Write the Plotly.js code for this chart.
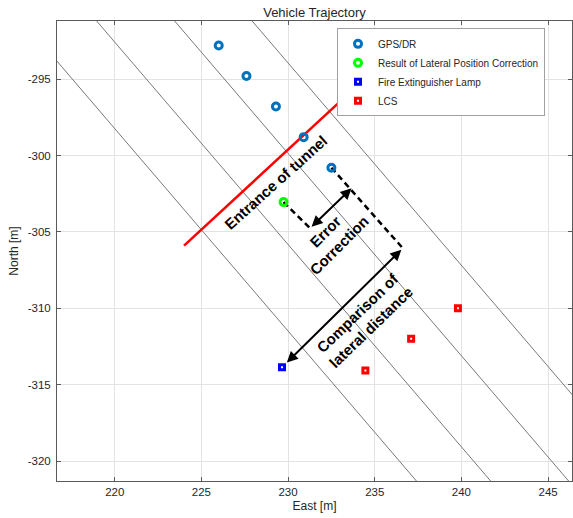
<!DOCTYPE html>
<html>
<head>
<meta charset="utf-8">
<script src="https://cdn.plot.ly/plotly-3.0.1.min.js"></script>
<style>html,body{margin:0;padding:0;background:#fff;}#chart{width:573px;height:518px;}</style>
</head>
<body>
<div id="chart"></div>
<script>
// ---- data ----
const gpsEast = [226.0, 227.6, 229.3, 230.9, 232.5];
const gpsNorth = [-292.8, -294.8, -296.8, -298.8, -300.8];
const corrEast = [229.74];
const corrNorth = [-303.05];
const lampEast = [229.65];
const lampNorth = [-313.85];
const lcsEast = [234.46, 237.1, 239.8];
const lcsNorth = [-314.07, -312.0, -310.0];
const entranceEast = [224.0, 233.4];
const entranceNorth = [-305.9, -296.05];
// lane boundary lines: east at north=-290 and at north=-323
const laneNorthEnds = [-290, -323];
const laneEastTop = [213.78, 218.05, 222.55, 227.02];
const laneEastBottom = [238.69, 242.97, 247.47, 251.94];
// dashed guides
const dashGpsEast = [232.5, 236.62];
const dashGpsNorth = [-300.8, -306.07];
const dashCorrEast = [229.74, 231.27];
const dashCorrNorth = [-303.05, -304.76];
// double arrows [east0, north0, east1, north1]
const errorArrow = [231.27, -304.76, 233.66, -302.15];
const compareArrow = [236.62, -306.07, 229.93, -313.55];
// labels
const labelTexts = ['Entrance of tunnel', 'Error<br>Correction', 'Comparison of<br>lateral distance'];
const labelEast = [229.28, 232.55, 234.39];
const labelNorth = [-301.77, -305.4, -310.82];
const labelAngle = [-42, -45, -44];
const xTicks = [220, 225, 230, 235, 240, 245];
const yTicks = [-320, -315, -310, -305, -300, -295];
const xTickText = ['220', '225', '230', '235', '240', '245'];
const yTickText = ['-320', '-315', '-310', '-305', '-300', '-295'];

const laneX = [], laneY = [];
for (let i = 0; i < laneEastTop.length; i++) {
  laneX.push(laneEastTop[i], laneEastBottom[i], null);
  laneY.push(laneNorthEnds[0], laneNorthEnds[1], null);
}

const FONT = 'Liberation Sans, Arial, Helvetica, sans-serif';

const traces = [
  {x: laneX, y: laneY, mode: 'lines', line: {color: '#787878', width: 1}, showlegend: false, hoverinfo: 'skip', connectgaps: false},
  {x: entranceEast, y: entranceNorth, mode: 'lines', line: {color: '#ff0000', width: 2.5}, showlegend: false},
  {x: dashGpsEast, y: dashGpsNorth, mode: 'lines', line: {color: '#000', width: 2.5, dash: '6px,4px'}, showlegend: false},
  {x: dashCorrEast, y: dashCorrNorth, mode: 'lines', line: {color: '#000', width: 2.5, dash: '6px,4px'}, showlegend: false},
  {x: gpsEast, y: gpsNorth, mode: 'markers', name: 'GPS/DR',
   marker: {symbol: 'circle-open', size: 7, color: '#0072BD', line: {width: 3, color: '#0072BD'}}},
  {x: corrEast, y: corrNorth, mode: 'markers', name: 'Result of Lateral Position Correction',
   marker: {symbol: 'circle-open', size: 7, color: '#00ff00', line: {width: 3, color: '#00ff00'}}},
  {x: lampEast, y: lampNorth, mode: 'markers', name: 'Fire Extinguisher Lamp',
   marker: {symbol: 'square-open', size: 5, color: '#0000ff', line: {width: 3, color: '#0000ff'}}},
  {x: lcsEast, y: lcsNorth, mode: 'markers', name: 'LCS',
   marker: {symbol: 'square-open', size: 5, color: '#ff0000', line: {width: 3, color: '#ff0000'}}}
];

function dblArrow(a) {
  return {x: a[2], y: a[3], ax: a[0], ay: a[1], xref: 'x', yref: 'y', axref: 'x', ayref: 'y',
    text: '', showarrow: true, arrowside: 'end+start', arrowhead: 2, startarrowhead: 2,
    arrowsize: 1.1, startarrowsize: 1.1, arrowwidth: 2, arrowcolor: '#000'};
}
const annotations = [dblArrow(errorArrow), dblArrow(compareArrow)];
for (let i = 0; i < labelTexts.length; i++) {
  annotations.push({x: labelEast[i], y: labelNorth[i], xref: 'x', yref: 'y', text: '<b>' + labelTexts[i] + '</b>',
    showarrow: false, textangle: labelAngle[i], align: 'center',
    font: {family: FONT, size: 15, color: '#000'}});
}

const axisCommon = {
  showline: true, mirror: 'ticks', linecolor: '#5a5a5a', linewidth: 1,
  ticks: 'inside', ticklen: 4, tickcolor: '#5a5a5a',
  showgrid: true, gridcolor: '#e3e3e3', gridwidth: 1, zeroline: false,
  tickfont: {family: FONT, size: 11.5, color: '#262626'}
};

const layout = {
  width: 573, height: 518,
  margin: {l: 57, r: 1, t: 21, b: 37},
  paper_bgcolor: '#fff', plot_bgcolor: '#fff',
  font: {family: FONT, color: '#262626'},
  title: {text: 'Vehicle Trajectory', x: 0.5, xref: 'paper', y: 1 - 12.8 / 518, yanchor: 'middle',
    font: {family: FONT, size: 13, color: '#262626'}},
  xaxis: Object.assign({}, axisCommon, {range: [216.67, 246.38], tickmode: 'array', tickvals: xTicks, ticktext: xTickText,
    title: {text: 'East [m]', font: {family: FONT, size: 12, color: '#262626'}, standoff: 4}}),
  yaxis: Object.assign({}, axisCommon, {range: [-321.3, -291.2], tickmode: 'array', tickvals: yTicks, ticktext: yTickText, ticklabelstandoff: 3,
    title: {text: 'North [m]', font: {family: FONT, size: 12, color: '#262626'}, standoff: 6}}),
  legend: {x: 0.5437, y: 0.984, xanchor: 'left', yanchor: 'top', bgcolor: '#fff',
    bordercolor: '#a0a0a0', borderwidth: 1, font: {family: FONT, size: 10, color: '#262626'}},
  annotations: annotations,
  showlegend: true
};

Plotly.newPlot('chart', traces, layout, {displayModeBar: false, staticPlot: true});
</script>
</body>
</html>
